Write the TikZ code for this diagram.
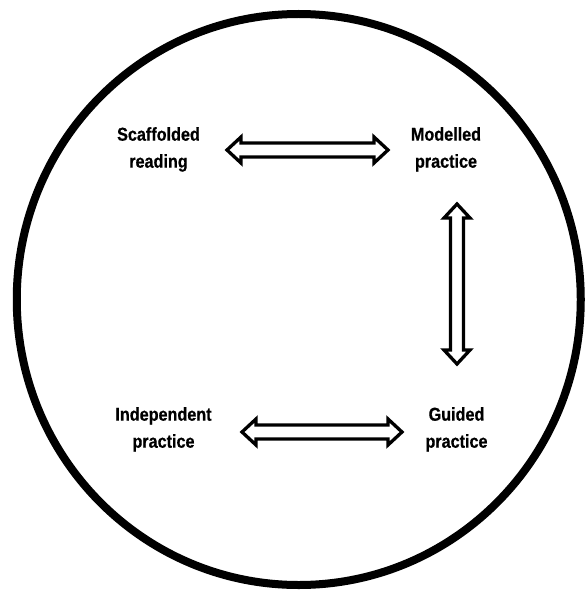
\documentclass[tikz,border=0pt]{standalone}
\usepackage{fontspec}
\setmainfont[FakeStretch=0.87, BoldFeatures={FakeBold=0.6}]{Liberation Sans}
\usetikzlibrary{calc}

\tikzset{
  stage/.style={font=\fontsize{18.6}{27}\selectfont\bfseries, align=center,
                inner sep=0pt, anchor=north},
  blockarrow/.style={draw=black, fill=white, line width=3.3pt, line join=miter},
  ring/.style={draw=black, line width=8pt}
}

% Two-headed block arrow between two named points; #3 = half shaft width
\newcommand{\twowayarrow}[3]{%
  \draw[blockarrow] (#1)
    -- ($(#1)!14pt!(#2)!13pt!90:(#2)$)
    -- ($(#1)!14pt!(#2)!#3!90:(#2)$)
    -- ($(#2)!14pt!(#1)!#3!-90:(#1)$)
    -- ($(#2)!14pt!(#1)!13pt!-90:(#1)$)
    -- (#2)
    -- ($(#2)!14pt!(#1)!13pt!90:(#1)$)
    -- ($(#2)!14pt!(#1)!#3!90:(#1)$)
    -- ($(#1)!14pt!(#2)!#3!-90:(#2)$)
    -- ($(#1)!14pt!(#2)!13pt!-90:(#2)$)
    -- cycle;}

\begin{document}
\begin{tikzpicture}[x=1pt, y=-1pt]
  \useasboundingbox[fill=white] (0,0) rectangle (585,591);

  % outer ring
  \draw[ring] (298.75,299.5) ellipse [x radius=282, y radius=285.5];

  % the four stages
  \node[stage] (scaf)  at (158.5,127) {Scaffolded\\reading};
  \node[stage] (model) at (446,127)   {Modelled\\practice};
  \node[stage] (indep) at (163.5,407) {Independent\\practice};
  \node[stage] (guide) at (456.5,407) {Guided\\practice};

  % arrow end points
  \coordinate (scaf-e)  at (227,150);
  \coordinate (model-w) at (388,150);
  \coordinate (model-s) at (457,204);
  \coordinate (guide-n) at (457,364);
  \coordinate (indep-e) at (242,432);
  \coordinate (guide-w) at (402,432);

  \twowayarrow{scaf-e}{model-w}{7pt}
  \twowayarrow{model-s}{guide-n}{6.5pt}
  \twowayarrow{indep-e}{guide-w}{7pt}
\end{tikzpicture}
\end{document}
